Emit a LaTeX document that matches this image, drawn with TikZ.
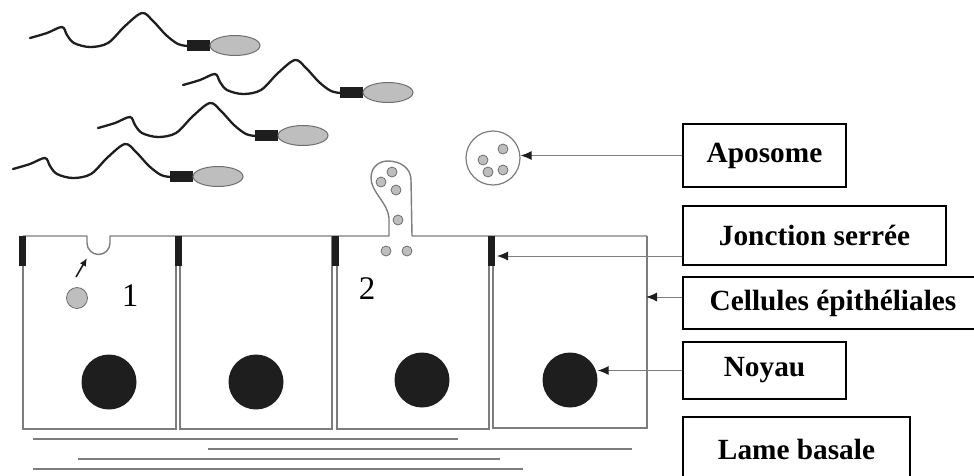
\documentclass[tikz,border=0pt]{standalone}
\usepackage{fontspec}
\setmainfont{Liberation Serif}
\usetikzlibrary{arrows.meta}
\definecolor{wall}{RGB}{125,125,125}
\definecolor{vesfill}{RGB}{190,190,190}
\definecolor{vesline}{RGB}{110,110,110}
\definecolor{ink}{RGB}{30,30,30}
\begin{document}
\begin{tikzpicture}[x=1pt,y=-1pt,
  wallline/.style={draw=wall,line width=1.4pt},
  basal/.style={draw=wall,line width=1.2pt},
  vesicle/.style={circle,fill=vesfill,draw=vesline,line width=0.8pt,inner sep=0pt,minimum size=10pt},
  nucleus/.style={circle,fill=ink,inner sep=0pt,minimum size=55pt},
  junction/.style={fill=ink,inner sep=0pt,minimum width=7pt,minimum height=30pt},
  labelbox/.style={draw=black,line width=1.5pt,inner sep=0pt,font=\fontsize{29.3}{31}\selectfont\bfseries},
  digit/.style={inner sep=0pt,font=\fontsize{33}{35}\selectfont},
  pointer/.style={draw=wall,line width=1pt,-{Latex[length=11pt,width=9pt,color=ink]}},
  flagellum/.style={draw=ink,line width=2.3pt,line join=round,line cap=round},
]
\useasboundingbox (0,0) rectangle (974,475);

% spermatozoa: flagellum, midpiece, head
\foreach \dx/\dy in {0/0,153/47,68/90,-17/131}{
  \begin{scope}[shift={(\dx,\dy)}]
    \draw[flagellum] plot[smooth,tension=0.55] coordinates
      {(30,38) (47,33) (62,27) (67,35) (74,43) (90,47) (108,43) (125,26) (142,13) (153,21) (166,35) (178,44) (188,46)};
    \fill[ink] (187,40) rectangle (210,51);
    \draw[fill=vesfill,draw=vesline,line width=1pt] (235,45.5) ellipse [x radius=25pt,y radius=10pt];
  \end{scope}
}

% apical membrane with the exocytosis pit and the budding bleb
\draw[wallline,line join=round] (23,236) -- (87,236) -- (87,243)
  arc[start angle=180,end angle=360,radius=11.5pt] -- (110,236) -- (389,236) -- (389,218)
  .. controls (388,203) and (371,192) .. (371,178)
  .. controls (371,166) and (380,161) .. (388,161)
  .. controls (400,161) and (411,168) .. (411,180)
  -- (412,236) -- (647,236);

% epithelial cells
\draw[wallline] (23,236) -- (23,429) -- (176,429) -- (176,236);
\draw[wallline] (180,236) -- (180,429) -- (332,429) -- (332,236);
\draw[wallline] (337,236) -- (337,429) -- (489,429) -- (489,236);
\draw[wallline] (493,236) -- (493,428) -- (647,428) -- (647,236);

% tight junctions
\node[junction] (j1) at (22,251) {};
\node[junction] (j2) at (178,251) {};
\node[junction] (j3) at (335,251) {};
\node[junction] (j4) at (491,251) {};

% nuclei
\node[nucleus] (n1) at (109,382) {};
\node[nucleus] (n2) at (256,382) {};
\node[nucleus] (n3) at (422,380) {};
\node[nucleus] (n4) at (570,380) {};

% basal lamina
\draw[basal] (33,439) -- (458,439);
\draw[basal] (208,449) -- (632,449);
\draw[basal] (78,459) -- (500,459);
\draw[basal] (33,469) -- (523,469);

% secretion 1: vesicle moving to the pit
\node[vesicle,minimum size=21pt] (v0) at (77,298) {};
\coordinate (exoA) at (76,277);
\coordinate (exoB) at (87,258);
\draw[ink,line width=1.6pt,-{Latex[length=8pt,width=7pt]}] (exoA) -- (exoB);
\node[digit] (d1) at (130,296) {1};

% secretion 2: apocrine bleb with vesicles
\node[vesicle] (b1) at (392,172) {};
\node[vesicle] (b2) at (381,182) {};
\node[vesicle] (b3) at (396,190) {};
\node[vesicle] (b4) at (398,220) {};
\node[vesicle] (b5) at (386,251) {};
\node[vesicle] (b6) at (407,251) {};
\node[digit] (d2) at (367,289) {2};

% released aposome
\node[circle,draw=wall,line width=1.2pt,minimum size=54pt,inner sep=0pt] (apo) at (493,158) {};
\node[vesicle] (a1) at (483,160) {};
\node[vesicle] (a2) at (503,149) {};
\node[vesicle] (a3) at (488,172) {};
\node[vesicle] (a4) at (503,170) {};

% labels
\node[labelbox,minimum width=163pt,minimum height=63pt] (lapo) at (764.5,155.5) {Aposome};
\node[labelbox,minimum width=263pt,minimum height=59pt] (ljon) at (814.5,235.5) {Jonction serrée};
\node[labelbox,minimum width=300pt,minimum height=52pt] (lcel) at (833,303) {Cellules épithéliales};
\node[labelbox,minimum width=163pt,minimum height=57pt] (lnoy) at (764.5,370.5) {Noyau};
\node[labelbox,minimum width=227pt,minimum height=64pt] (lbas) at (796.5,449) {Lame basale};

% pointers
\coordinate (jtip) at (497,256);
\coordinate (walltip) at (646,297);
\draw[pointer] (lapo.west) -- (apo.east |- lapo.west);
\draw[pointer] (ljon.west |- jtip) -- (jtip);
\draw[pointer] (lcel.west |- walltip) -- (walltip);
\draw[pointer] (lnoy.west) -- (n4.east |- lnoy.west);
\end{tikzpicture}
\end{document}
